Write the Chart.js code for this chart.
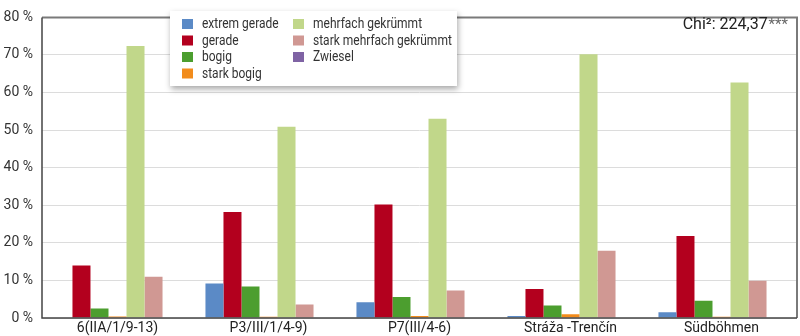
<!DOCTYPE html>
<html>
<head>
<meta charset="utf-8">
<script src="https://cdn.jsdelivr.net/npm/chart.js@4"></script>
<style>
  body { margin: 0; background: #fff; }
  #wrap { width: 800px; height: 336px; position: relative; }
</style>
</head>
<body>
<div id="wrap"><canvas id="wuchs-chart"></canvas></div>
<script>
var sites = ['6(IIA/1/9-13)', 'P3/III/1/4-9)', 'P7(III/4-6)', 'Stráža -Trenčín', 'Südböhmen'];

var extremGerade = [0, 9.2, 4.2, 0.5, 1.5];
var gerade = [14.0, 28.2, 30.2, 7.7, 21.8];
var bogig = [2.5, 8.4, 5.6, 3.3, 4.6];
var starkBogig = [0.4, 0.3, 0.5, 1.0, 0.3];
var mehrfachGekruemmt = [72.4, 50.9, 53.0, 70.2, 62.7];
var starkMehrfach = [11.0, 3.6, 7.3, 17.9, 9.9];
var zwiesel = [0, 0, 0, 0, 0];

var yTicks = [0, 10, 20, 30, 40, 50, 60, 70, 80];
var chiValue = 'Chi²: 224,37';
var chiStars = '***';

var font = "Roboto, 'Liberation Sans', sans-serif";

function ds(label, data, color) {
	return {
		label: label,
		data: data,
		backgroundColor: color,
		borderWidth: 0,
		categoryPercentage: 0.835,
		barPercentage: 1
	};
}

// frame, legend box and chi-square note
var extras = {
	id: 'extras',
	afterDraw: function(chart) {
		var ctx = chart.ctx;
		var a = chart.chartArea;
		ctx.save();

		ctx.strokeStyle = '#7a7a7a';
		ctx.lineWidth = 2;
		ctx.beginPath();
		ctx.moveTo(a.left, a.top);
		ctx.lineTo(a.right, a.top);
		ctx.lineTo(a.right, a.bottom);
		ctx.stroke();

		ctx.strokeStyle = '#444';
		ctx.lineWidth = 1.5;
		ctx.beginPath();
		ctx.moveTo(a.left, a.top);
		ctx.lineTo(a.left, a.bottom);
		ctx.lineTo(a.right, a.bottom);
		ctx.stroke();

		// legend
		var bx = 170, by = 11, bw = 287, bh = 75;
		ctx.shadowColor = 'rgba(0,0,0,0.35)';
		ctx.shadowBlur = 6;
		ctx.shadowOffsetX = 1;
		ctx.shadowOffsetY = 3;
		ctx.fillStyle = '#fff';
		ctx.fillRect(bx, by, bw, bh);
		ctx.shadowColor = 'transparent';

		ctx.font = '15px ' + font;
		ctx.textBaseline = 'middle';
		chart.data.datasets.forEach(function(d, i) {
			var col = i < 4 ? 0 : 1;
			var row = i < 4 ? i : i - 4;
			var sx = col ? 293 : 182;
			var sy = 19 + row * 16.5;
			ctx.fillStyle = d.backgroundColor;
			ctx.fillRect(sx, sy, 11, 10);
			ctx.fillStyle = '#333';
			// condensed label text
			ctx.save();
			ctx.translate(sx + 20, sy + 5.5);
			ctx.scale(0.8, 1);
			ctx.fillText(d.label, 0, 0);
			ctx.restore();
		});

		// chi-square
		ctx.textBaseline = 'alphabetic';
		var x = 788, y = 29;
		ctx.font = '15px ' + font;
		var ws = ctx.measureText(chiStars).width;
		ctx.fillStyle = '#666';
		ctx.fillText(chiStars, x - ws, y);
		ctx.font = '16px ' + font;
		ctx.fillStyle = '#222';
		ctx.textAlign = 'right';
		ctx.fillText(chiValue, x - ws - 1, y);
		ctx.restore();
	}
};

var ctx = document.getElementById('wuchs-chart').getContext('2d');
var myChart = new Chart(ctx, {
	type: 'bar',
	data: {
		labels: sites,
		datasets: [
			ds('extrem gerade', extremGerade, '#5b8ac6'),
			ds('gerade', gerade, '#b3001e'),
			ds('bogig', bogig, '#4c9e2f'),
			ds('stark bogig', starkBogig, '#f28c1c'),
			ds('mehrfach gekrümmt', mehrfachGekruemmt, '#c1d78a'),
			ds('stark mehrfach gekrümmt', starkMehrfach, '#d09893'),
			ds('Zwiesel', zwiesel, '#7f63a4')
		]
	},
	options: {
		responsive: true,
		maintainAspectRatio: false,
		animation: false,
		layout: { padding: { top: 5, right: 3, left: 0, bottom: 0 } },
		plugins: {
			legend: { display: false },
			tooltip: { enabled: false }
		},
		scales: {
			x: {
				grid: { display: false, drawTicks: false },
				border: { display: false },
				ticks: { color: '#222', font: { family: font, size: 14 }, padding: 2, maxRotation: 0 },
				afterFit: function(s) { s.height = 18; }
			},
			y: {
				min: 0,
				max: 80,
				afterBuildTicks: function(s) { s.ticks = yTicks.map(function(v) { return { value: v }; }); },
				grid: { color: '#dcdcdc', lineWidth: 1, drawTicks: false },
				border: { display: false },
				ticks: {
					color: '#333',
					font: { family: font, size: 14 },
					padding: 9,
					callback: function(v) { return v + ' %'; }
				},
				afterFit: function(s) { s.width = 42; }
			}
		}
	},
	plugins: [extras]
});
</script>
</body>
</html>
